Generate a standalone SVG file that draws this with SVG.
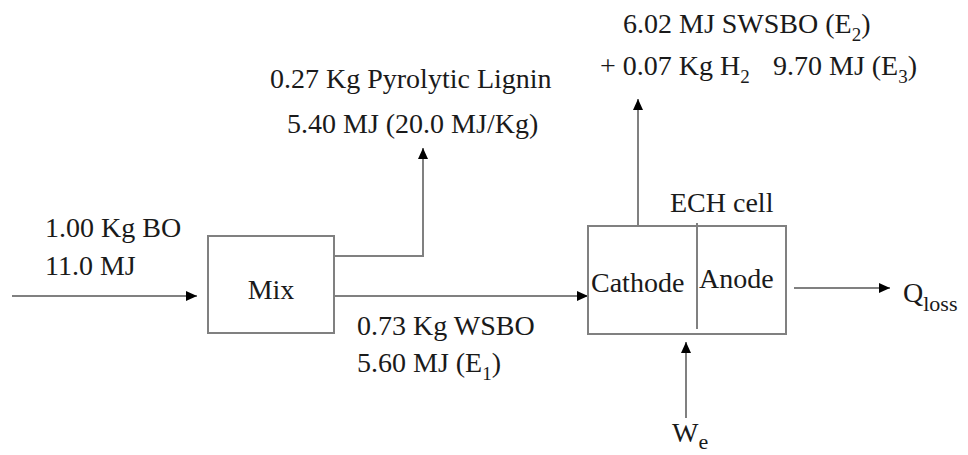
<svg xmlns="http://www.w3.org/2000/svg" width="968" height="455" viewBox="0 0 968 455">
<style>
text{font-family:'Liberation Serif','Times New Roman',serif;font-size:28px;fill:#1a1a1a}
.sub{font-size:19px}
.sub2{font-size:22px}
.ln{fill:none;stroke:#808080;stroke-width:2}
.bx{fill:#fff;stroke:#808080;stroke-width:2}
</style>
<defs>
<marker id="ah" markerUnits="userSpaceOnUse" markerWidth="12" markerHeight="10" refX="11" refY="5" orient="auto">
<path d="M0,0 L11,5 L0,10 Z" fill="#000"/>
</marker>
</defs>
<g id="connectors">
<path class="ln" d="M12,296 H197" marker-end="url(#ah)"/>
<path class="ln" d="M334,256 H423 V148" marker-end="url(#ah)"/>
<path class="ln" d="M334,296 H588" marker-end="url(#ah)"/>
<path class="ln" d="M638,226 V99" marker-end="url(#ah)"/>
<path class="ln" d="M794,288 H890" marker-end="url(#ah)"/>
<path class="ln" d="M686,418 V342" marker-end="url(#ah)"/>
</g>
<g id="mix">
<rect class="bx" x="208" y="236" width="126" height="97"/>
<text x="271" y="299" text-anchor="middle">Mix</text>
</g>
<g id="ech-cell">
<rect class="bx" x="588" y="226" width="198" height="108"/>
<line class="ln" x1="697" y1="223" x2="697" y2="329"/>
<text x="670" y="212">ECH cell</text>
<text x="591" y="292">Cathode</text>
<text x="699" y="288">Anode</text>
</g>
<g id="labels">
<text x="45" y="237">1.00 Kg BO</text>
<text x="45" y="275">11.0 MJ</text>
<text x="270" y="88">0.27 Kg Pyrolytic Lignin</text>
<text x="287" y="133">5.40 MJ (20.0 MJ/Kg)</text>
<text x="357" y="335">0.73 Kg WSBO</text>
<text x="357" y="372">5.60 MJ (E<tspan class="sub" dy="8">1</tspan><tspan dy="-8">)</tspan></text>
<text x="623" y="33">6.02 MJ SWSBO (E<tspan class="sub" dy="8">2</tspan><tspan dy="-8">)</tspan></text>
<text x="600" y="75">+ 0.07 Kg H<tspan class="sub" dy="8">2</tspan></text>
<text x="773" y="75">9.70 MJ (E<tspan class="sub" dy="8">3</tspan><tspan dy="-8">)</tspan></text>
<text x="903" y="302">Q<tspan class="sub2" dy="9">loss</tspan></text>
<text x="672" y="442">W<tspan class="sub2" dy="7">e</tspan></text>
</g>
</svg>
